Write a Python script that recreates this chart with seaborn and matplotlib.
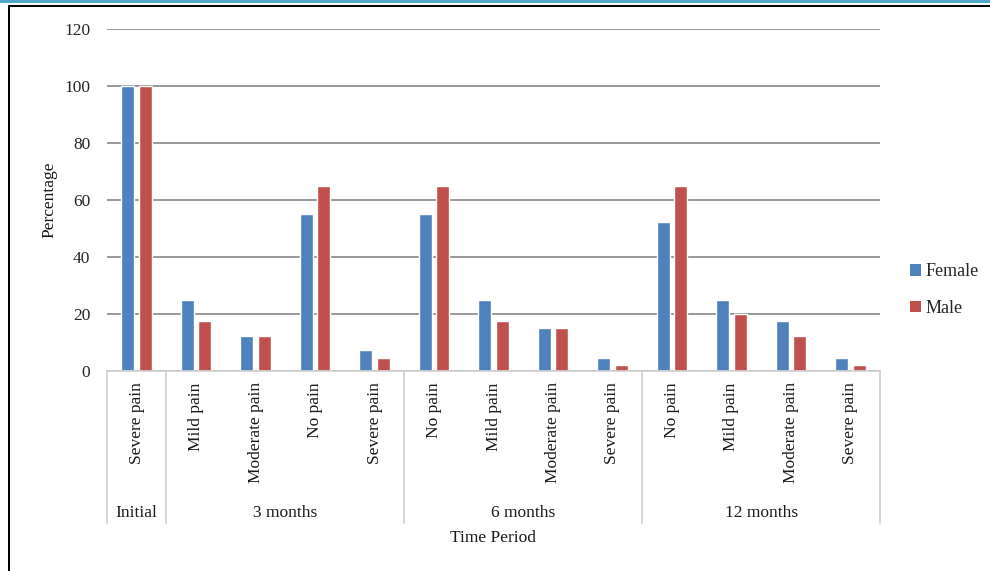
import matplotlib
matplotlib.use("Agg")
import matplotlib.pyplot as plt
from matplotlib.patches import Rectangle, Patch
from matplotlib.lines import Line2D
import matplotlib.transforms as mtransforms
import seaborn as sns
import pandas as pd

# Pain level reported at each follow-up, percentage of patients by sex
periods = ["Initial", "3 months", "3 months", "3 months", "3 months",
           "6 months", "6 months", "6 months", "6 months",
           "12 months", "12 months", "12 months", "12 months"]
pain = ["Severe pain", "Mild pain", "Moderate pain", "No pain", "Severe pain",
        "No pain", "Mild pain", "Moderate pain", "Severe pain",
        "No pain", "Mild pain", "Moderate pain", "Severe pain"]
female = [100, 25, 12.5, 55, 7.5, 55, 25, 15, 4.5, 52.5, 25, 17.5, 4.5]
male = [100, 17.5, 12.5, 65, 4.5, 65, 17.5, 15, 2.2, 65, 20, 12.5, 2.2]
sexes = ["Female", "Male"]
colors = ["#4F81BD", "#C0504D"]
y_ticks = [0, 20, 40, 60, 80, 100, 120]

keys = [f"{p}|{q}" for p, q in zip(periods, pain)]
df = pd.DataFrame({
    "key": keys * 2,
    "sex": ["Female"] * len(keys) + ["Male"] * len(keys),
    "value": female + male,
})

sns.set_theme(style="white")
plt.rcParams["font.family"] = ["Liberation Serif", "DejaVu Serif"]

fig = plt.figure(figsize=(9.9, 5.71), dpi=100)
ax = fig.add_axes([0.108, 0.350, 0.781, 0.599])

sns.barplot(data=df, x="key", y="value", hue="sex", order=keys,
            hue_order=sexes, palette=colors, width=0.59, gap=0.26,
            saturation=1, ax=ax, legend=False)

ax.set_ylim(0, 120)
ax.set_xlim(-0.5, len(keys) - 0.5)
ax.set_yticks(y_ticks)
ax.set_yticklabels([str(v) for v in y_ticks], fontsize=12.5, color="#262626")
ax.yaxis.grid(True, color="#868686", linewidth=1.2)
ax.set_axisbelow(True)
for s in ["left", "right", "top"]:
    ax.spines[s].set_visible(False)
ax.spines["bottom"].set_color("#D0D0D0")
ax.tick_params(axis="y", length=0, pad=12)

ax.set_xticks(range(len(keys)))
ax.set_xticklabels(pain, rotation=90, fontsize=12.5, color="#1a1a1a")
ax.tick_params(axis="x", length=0, pad=8)
for lab in ax.get_xticklabels():
    lab.set_va("top")
    lab.set_ha("center")
ax.set_xlabel("")
ax.set_ylabel("Percentage", fontsize=12.5, labelpad=5, color="#1a1a1a")

# Group separators and period labels below the category labels
trans = mtransforms.blended_transform_factory(ax.transData, ax.transAxes)
group_names = []
bounds = []
for i, p in enumerate(periods):
    if not group_names or group_names[-1] != p:
        group_names.append(p)
        bounds.append([i, i])
    else:
        bounds[-1][1] = i
edges = [-0.5] + [b[1] + 0.5 for b in bounds]
for e in edges:
    ax.add_line(Line2D([e, e], [0, -0.445], transform=trans, color="#D0D0D0",
                       linewidth=1.2, clip_on=False))
for name, (a, b) in zip(group_names, bounds):
    ax.text((a + b) / 2, -0.415, name, transform=trans, ha="center",
            va="center", fontsize=12.5, color="#1a1a1a")

fig.text(0.498, 0.058, "Time Period", ha="center", va="center",
         fontsize=12.5, color="#1a1a1a")

handles = [Patch(facecolor=c, edgecolor="none") for c in colors]
fig.legend(handles, sexes, loc="center left", bbox_to_anchor=(0.912, 0.492),
           frameon=False, fontsize=13, handlelength=0.6, handleheight=0.6,
           handletextpad=0.25, labelspacing=1.1, borderaxespad=0)

# Page frame: accent band and dark rule at the top, dark rule at the left
fig.add_artist(Rectangle((0, 1 - 3 / 571), 1, 3 / 571, transform=fig.transFigure,
                         facecolor="#4FA8C8", edgecolor="none"))
fig.add_artist(Rectangle((8 / 990, 1 - 7 / 571), 1, 2 / 571,
                         transform=fig.transFigure, facecolor="black",
                         edgecolor="none"))
fig.add_artist(Rectangle((8 / 990, 0), 2 / 990, 1 - 5 / 571,
                         transform=fig.transFigure, facecolor="black",
                         edgecolor="none"))

fig.savefig("out.png", dpi=100)
